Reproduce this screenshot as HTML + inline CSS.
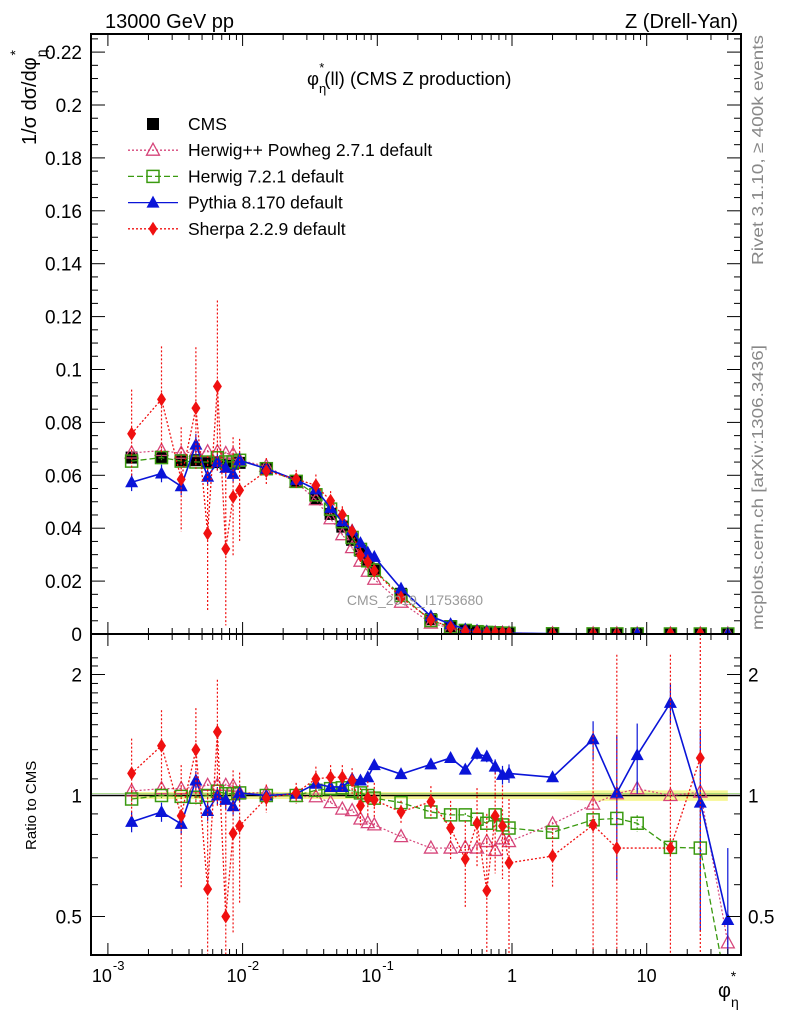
<!DOCTYPE html>
<html><head><meta charset="utf-8"><style>
html,body{margin:0;padding:0;background:#fff;width:786px;height:1024px;overflow:hidden;}
svg{display:block;font-family:"Liberation Sans",sans-serif;}
</style></head><body>
<svg id="chart" width="786" height="1024" viewBox="0 0 786 1024" xmlns="http://www.w3.org/2000/svg">
<rect x="0" y="0" width="786" height="1024" fill="#fff"/>
<defs>
<clipPath id="cm"><rect x="91" y="34" width="650" height="600"/></clipPath>
<clipPath id="cr"><rect x="91" y="634" width="650" height="321"/></clipPath>
</defs>
<g id="bandG" clip-path="url(#cr)"></g>
<g id="mainG" clip-path="url(#cm)"></g>
<g id="ratioG" clip-path="url(#cr)"></g>
<g id="axesG"></g>
<text x="105" y="28" font-size="20">13000 GeV pp</text>
<text x="738" y="28" font-size="20" text-anchor="end">Z (Drell-Yan)</text>
<text x="307" y="85" font-size="18.5">φ<tspan dy="8" font-size="13">η</tspan><tspan dx="-7" dy="-21" font-size="13">*</tspan><tspan dy="13">(ll) (CMS Z production)</tspan></text>
<text x="415" y="605" font-size="14" fill="#999" text-anchor="middle">CMS_2019_I1753680</text>
<text transform="translate(763,265) rotate(-90)" font-size="16" fill="#888" textLength="230" lengthAdjust="spacingAndGlyphs">Rivet 3.1.10, ≥ 400k events</text>
<text transform="translate(763,630) rotate(-90)" font-size="16" fill="#888" textLength="285" lengthAdjust="spacingAndGlyphs">mcplots.cern.ch [arXiv:1306.3436]</text>
<text transform="translate(36,145) rotate(-90)" font-size="20">1/σ dσ/dφ<tspan dy="10" font-size="14">η</tspan><tspan dx="-6" dy="-26" font-size="14">*</tspan></text>
<text transform="translate(36,850) rotate(-90)" font-size="15">Ratio to CMS</text>
<text x="718" y="997" font-size="20">φ<tspan dy="10" font-size="14">η</tspan><tspan dx="-8" dy="-26" font-size="14">*</tspan></text>
<g id="legendG"></g>
</svg>
<script>
const xVals=[0.0015,0.0025,0.0035,0.0045,0.0055,0.0065,0.0075,0.0085,0.0095,0.015,0.025,0.035,0.045,0.055,0.065,0.075,0.085,0.095,0.15,0.25,0.35,0.45,0.55,0.65,0.75,0.85,0.95,2,4,6,8.5,15,25,40];
const cmsVals=[0.0667,0.0667,0.0657,0.0657,0.065,0.065,0.0644,0.0644,0.0647,0.0625,0.0577,0.0511,0.0454,0.0406,0.0356,0.0315,0.0277,0.0245,0.0152,0.0056,0.003,0.0015,0.001,0.0007,0.0005,0.0004,0.0003,0.0001,0.00005,0.00003,0.00002,0.00001,0.000005,0.000002];
const bandErr=[0.02,0.02,0.02,0.02,0.02,0.02,0.02,0.02,0.02,0.02,0.02,0.02,0.02,0.02,0.02,0.02,0.02,0.02,0.02,0.02,0.02,0.02,0.02,0.02,0.02,0.02,0.02,0.02,0.03,0.03,0.03,0.03,0.03,0.03];
const hppRatio=[1.026,1.04,1.04,1.05,1.06,1.06,1.06,1.055,1.015,1.015,0.995,0.993,0.96,0.925,0.917,0.874,0.856,0.845,0.79,0.74,0.74,0.743,0.74,0.768,0.73,0.78,0.768,0.85,0.952,1.01,1.04,1.0,1.02,0.43];
const hppErr=[0.01,0.01,0.01,0.01,0.01,0.01,0.01,0.01,0.01,0.01,0.01,0.01,0.01,0.01,0.01,0.01,0.01,0.01,0.01,0.01,0.01,0.01,0.01,0.01,0.01,0.01,0.01,0.01,0.02,0.02,0.02,0.02,0.02,0.02];
const h7Ratio=[0.98,1.0,0.995,0.99,1.0,1.025,1.01,1.01,1.015,1.0,1.0,1.03,1.04,1.045,1.025,1.015,1.0,0.985,0.96,0.91,0.895,0.895,0.873,0.853,0.895,0.845,0.83,0.81,0.87,0.877,0.853,0.743,0.74,0.3];
const h7Err=[0.015,0.015,0.015,0.015,0.015,0.015,0.015,0.015,0.015,0.01,0.01,0.01,0.01,0.01,0.01,0.01,0.01,0.01,0.01,0.01,0.01,0.01,0.01,0.01,0.01,0.01,0.01,0.02,0.04,0.04,0.04,0.04,0.2,0.1];
const pyRatio=[0.86,0.91,0.85,1.09,0.915,1.0,0.975,0.94,1.015,1.0,1.01,1.07,1.05,1.05,1.10,1.09,1.11,1.19,1.13,1.195,1.24,1.16,1.27,1.25,1.18,1.125,1.135,1.11,1.38,1.015,1.26,1.70,0.96,0.49];
const pyErr=[0.05,0.05,0.05,0.06,0.05,0.05,0.05,0.05,0.05,0.02,0.02,0.02,0.02,0.02,0.02,0.02,0.02,0.03,0.02,0.02,0.02,0.03,0.04,0.04,0.05,0.06,0.06,0.03,0.15,0.4,0.25,0.2,0.5,0.25];
const shRatio=[1.135,1.33,0.89,1.30,0.585,1.44,0.50,0.805,0.84,0.985,1.015,1.10,1.11,1.11,1.09,0.943,0.985,0.975,0.91,0.965,0.83,0.695,0.853,0.58,0.89,0.84,0.68,0.707,0.845,0.74,null,0.74,1.24,null];
const shErr=[0.25,0.3,0.3,0.35,0.45,0.5,0.45,0.35,0.3,0.08,0.06,0.08,0.08,0.08,0.08,0.1,0.1,0.1,0.06,0.09,0.14,0.17,0.19,0.32,0.25,0.22,0.3,0.12,0.6,1.5,0,1.5,1.5,0];
const yTicks=[0,0.02,0.04,0.06,0.08,0.1,0.12,0.14,0.16,0.18,0.2,0.22];
const yTickLabels=["0","0.02","0.04","0.06","0.08","0.1","0.12","0.14","0.16","0.18","0.2","0.22"];
const rTicks=[0.5,1,2];
const rTickLabels=["0.5","1","2"];
const xDecades=[-3,-2,-1,0,1];
const xDecadeLabels=["10","10","10","1","10"];
const xDecadeExps=["-3","-2","-1","",""];

const NS="http://www.w3.org/2000/svg";
const L=91,R=741,T=34,MB=634,RB=955;
function X(v){return 512+134.7*Math.log10(v);}
function Y(v){return 634-2645*v;}
function YR(r){return 795.5-402*Math.log10(Math.max(r,0.01));}
function cl(y,a,b){return Math.min(Math.max(y,a),b);}
function mk(tag,attrs,parent){const e=document.createElementNS(NS,tag);for(const k in attrs)e.setAttribute(k,attrs[k]);parent.appendChild(e);return e;}
const mainG=document.getElementById('mainG'),ratioG=document.getElementById('ratioG'),axesG=document.getElementById('axesG'),bandG=document.getElementById('bandG'),legendG=document.getElementById('legendG');

let up="",dn="";
xVals.forEach((x,i)=>{up+=(i?"L":"M")+X(x)+","+YR(1+bandErr[i]);});
for(let i=xVals.length-1;i>=0;i--)dn+="L"+X(xVals[i])+","+YR(1-bandErr[i]);
let band=mk('path',{d:up+dn+"Z",fill:"#f4f47a",opacity:0.8},bandG);


let l1=mk('line',{x1:L,x2:R,y1:YR(1),y2:YR(1),stroke:"#000","stroke-width":1.5},bandG);


let l1g=mk('line',{x1:L,x2:R,y1:YR(1)-2,y2:YR(1)-2,stroke:"#8c6",opacity:0.7,"stroke-width":1},bandG);



function marker(g,type,cx,cy,color){
  let e;
  if(type==='sq') e=mk('rect',{x:cx-6,y:cy-6,width:12,height:12,fill:"#000"},g);
  else if(type==='osq') e=mk('rect',{x:cx-6,y:cy-6,width:12,height:12,fill:"none",stroke:color,"stroke-width":1.5},g);
  else if(type==='tri') e=mk('polygon',{points:`${cx},${cy-7} ${cx-6.5},${cy+5} ${cx+6.5},${cy+5}`,fill:color},g);
  else if(type==='otri') e=mk('polygon',{points:`${cx},${cy-7} ${cx-6.5},${cy+5} ${cx+6.5},${cy+5}`,fill:"none",stroke:color,"stroke-width":1.3},g);
  else e=mk('polygon',{points:`${cx},${cy-7} ${cx-4.5},${cy} ${cx},${cy+7} ${cx+4.5},${cy}`,fill:color},g);
  return e;
}
const series=[
 {name:'herwigpp',ratio:hppRatio,err:hppErr,color:'#d6457a',dash:'2,2',m:'otri',w:1.2},
 {name:'herwig7',ratio:h7Ratio,err:h7Err,color:'#3a9a10',dash:'6,3',m:'osq',w:1.3},
 {name:'pythia',ratio:pyRatio,err:pyErr,color:'#0a14d8',dash:'',m:'tri',w:1.6},
 {name:'sherpa',ratio:shRatio,err:shErr,color:'#f01010',dash:'2,2',m:'dia',w:1.3}
];
function drawSeries(s){
  const gm=mk('g',{},mainG);
  const gr=mk('g',{},ratioG);
  let dm="",dr="";let started=false;
  xVals.forEach((x,i)=>{const r=s.ratio[i];if(r===null)return;
    dm+=(started?"L":"M")+X(x)+","+cl(Y(cmsVals[i]*r),T,MB+6)+"";dr+=(started?"L":"M")+X(x)+","+cl(YR(r),MB-6,RB+40);started=true;});
  const a={fill:"none",stroke:s.color,"stroke-width":s.w};if(s.dash)a["stroke-dasharray"]=s.dash;
  let p1=mk('path',Object.assign({d:dm},a),gm);
  let p2=mk('path',Object.assign({d:dr},a),gr);
  xVals.forEach((x,i)=>{const r=s.ratio[i];if(r===null)return;const e=s.err[i];const cx=X(x);
    const ea={stroke:s.color,"stroke-width":1.2};if(s.dash)ea["stroke-dasharray"]="2,2";
    const v=cmsVals[i];
    let b1=mk('line',Object.assign({x1:cx,x2:cx,y1:cl(Y(v*(r+e)),T,MB),y2:cl(Y(v*Math.max(r-e,0)),T,MB)},ea),gm);
    
    let b2=mk('line',Object.assign({x1:cx,x2:cx,y1:cl(YR(r+e),MB,RB),y2:cl(YR(Math.max(r-e,0.05)),MB,RB)},ea),gr);
    
    let m1=marker(gm,s.m,cx,Y(v*r),s.color);
    const yr=YR(r);
    if(yr<RB+8){let m2=marker(gr,s.m,cx,yr,s.color);}
  });
}
const gc=mk('g',{},mainG);
xVals.forEach((x,i)=>{let m=marker(gc,'sq',X(x),Y(cmsVals[i]),'#000');});
series.forEach(drawSeries);

let f1=mk('rect',{x:L,y:T,width:R-L,height:MB-T,fill:"none",stroke:"#000","stroke-width":2},axesG);

let f2=mk('rect',{x:L,y:MB,width:R-L,height:RB-MB,fill:"none",stroke:"#000","stroke-width":2},axesG);

for(let d=-3;d<=1;d++){for(let k=1;k<=9;k++){const v=k*Math.pow(10,d);const x=X(v);if(x<L||x>R)continue;const len=k===1?12:6;
  [[T,T+len],[MB,MB-len],[MB,MB+len],[RB,RB-len]].forEach(p=>{let t=mk('line',{x1:x,x2:x,y1:p[0],y2:p[1],stroke:"#000","stroke-width":1},axesG);});}}
xDecades.forEach((d,i)=>{const x=X(Math.pow(10,d));
  const t=mk('text',{x:x-(xDecadeExps[i]?6:0),y:982,"font-size":18,"text-anchor":"middle"},axesG);t.textContent=xDecadeLabels[i];
  
  if(xDecadeExps[i]){const e=mk('text',{x:x+5,y:970,"font-size":13},axesG);e.textContent=xDecadeExps[i];}
});
for(let v=0;v<=0.2251;v+=0.005){const y=Y(v);const major=Math.abs(v/0.02-Math.round(v/0.02))<1e-6;const len=major?14:7;
  [[L,L+len],[R,R-len]].forEach(p=>{let t=mk('line',{x1:p[0],x2:p[1],y1:y,y2:y,stroke:"#000"},axesG);});}
yTicks.forEach((v,i)=>{const t=mk('text',{x:82,y:Y(v)+7,"font-size":19,"text-anchor":"end"},axesG);t.textContent=yTickLabels[i];});
const rMin=[0.4,0.5,0.6,0.7,0.8,0.9,1,1.1,1.2,1.3,1.4,1.5,1.6,1.7,1.8,1.9,2,2.1,2.2];
rMin.forEach(v=>{const y=YR(v);if(y<MB||y>RB)return;const major=rTicks.includes(v);const len=major?14:7;
  [[L,L+len],[R,R-len]].forEach(p=>{let t=mk('line',{x1:p[0],x2:p[1],y1:y,y2:y,stroke:"#000"},axesG);});});
rTicks.forEach((v,i)=>{
  let t=mk('text',{x:82,y:YR(v)+7,"font-size":19,"text-anchor":"end"},axesG);t.textContent=rTickLabels[i];
  let t2=mk('text',{x:748,y:YR(v)+7,"font-size":19},axesG);t2.textContent=rTickLabels[i];
});
const legItems=[['CMS','sq','#000',''],['Herwig++ Powheg 2.7.1 default','otri','#d6457a','2,2'],['Herwig 7.2.1 default','osq','#3a9a10','6,3'],['Pythia 8.170 default','tri','#0a14d8',''],['Sherpa 2.2.9 default','dia','#f01010','2,2']];
legItems.forEach((it,i)=>{const y=124+i*26.2;const g=mk('g',{},legendG);
  if(i>0){const a={x1:128,x2:178,y1:y,y2:y,stroke:it[2],"stroke-width":1.3};if(it[3])a["stroke-dasharray"]=it[3];mk('line',a,g);}
  marker(g,it[1],153,y,it[2]);
  const t=mk('text',{x:188,y:y+6,"font-size":17.5},g);t.textContent=it[0];});
</script>
</body></html>
